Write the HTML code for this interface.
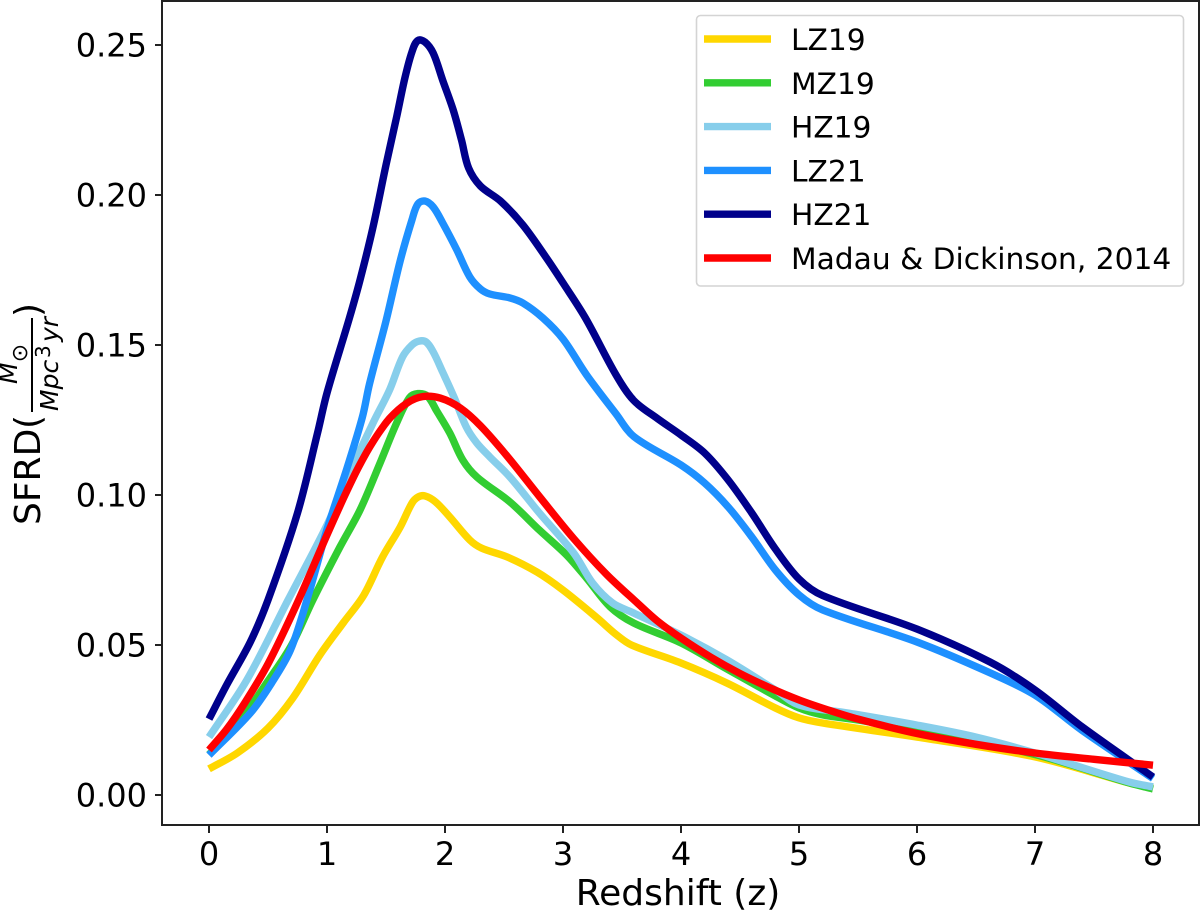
<!DOCTYPE html>
<html lang="en">
<head>
<meta charset="utf-8">
<title>SFRD vs Redshift</title>
<style>
html,body{margin:0;padding:0;background:#fff;width:1200px;height:911px;overflow:hidden}
svg{display:block}
text{font-family:"DejaVu Sans","Liberation Sans",sans-serif;fill:#000}
</style>
</head>
<body>
<svg id="chart" xmlns="http://www.w3.org/2000/svg" width="1200" height="911" viewBox="0 0 1200 911">
  <rect x="0" y="0" width="1200" height="911" fill="#fff"/>
  <g id="series" fill="none" stroke-width="7.4" stroke-linejoin="round" stroke-linecap="butt"></g>
  <rect x="162" y="1" width="1037" height="824" fill="none" stroke="#222" stroke-width="2"/>
  <g id="ticks"></g>
  <text x="678" y="905" font-size="36" text-anchor="middle">Redshift (z)</text>
  <g transform="translate(40,0) rotate(-90)">
    <text x="-525" y="0" font-size="36">SFRD</text>
    <text x="-429" y="0" font-size="36">(</text>
    <text x="-384" y="-23" font-size="25" font-style="italic">M</text>
    <text x="-353" y="-13" font-size="22" text-anchor="middle">⊙</text>
    <rect x="-412" y="-9" width="94" height="2" fill="#000"/>
    <text x="-411" y="18" font-size="25" font-style="italic">Mpc</text>
    <text x="-358" y="10" font-size="20">3</text>
    <text x="-342" y="18" font-size="25" font-style="italic">yr</text>
    <text x="-317" y="0" font-size="36">)</text>
  </g>
  <g>
    <rect x="696.5" y="15.5" width="487" height="270.5" rx="4" ry="4" fill="#fff" fill-opacity="0.8" stroke="#d4d4d4" stroke-width="1.6"/>
    <g id="legend-entries"></g>
  </g>
</svg>
<script>
// Categories and tick labels
const xTickValues = [0, 1, 2, 3, 4, 5, 6, 7, 8];
const yTickValues = [0.00, 0.05, 0.10, 0.15, 0.20, 0.25];
const yTickLabels = ["0.00", "0.05", "0.10", "0.15", "0.20", "0.25"];
const seriesNames = ["LZ19", "MZ19", "HZ19", "LZ21", "HZ21", "Madau & Dickinson, 2014"];
const seriesColors = ["#ffd700", "#32cd32", "#87ceeb", "#1e90ff", "#00008b", "#ff0000"];

// Series values
const lz19Z = [0, 0.24, 0.5, 0.71, 0.94, 1.14, 1.31, 1.47, 1.62, 1.72, 1.77, 1.83, 1.92, 2.04, 2.21, 2.31, 2.53, 2.78, 3, 3.29, 3.45, 3.58, 3.98, 4.39, 4.8, 5, 5.2, 6, 7, 7.8, 8];
const lz19Y = [0.0087, 0.014, 0.0223, 0.0323, 0.0467, 0.0575, 0.0665, 0.0793, 0.0893, 0.0973, 0.0993, 0.0997, 0.0977, 0.0927, 0.085, 0.0823, 0.0793, 0.0743, 0.0683, 0.059, 0.0535, 0.05, 0.0443, 0.0373, 0.029, 0.0257, 0.024, 0.0193, 0.0127, 0.004, 0.0023];
const mz19Z = [0, 0.25, 0.5, 0.7, 0.88, 1.11, 1.28, 1.45, 1.59, 1.7, 1.77, 1.85, 1.93, 2.04, 2.15, 2.27, 2.55, 2.8, 3.03, 3.2, 3.4, 3.6, 4, 4.39, 4.8, 5, 5.2, 5.5, 6, 7, 7.8, 8];
const mz19Y = [0.0135, 0.024, 0.038, 0.05, 0.065, 0.0827, 0.095, 0.1107, 0.124, 0.1325, 0.1338, 0.133, 0.128, 0.1207, 0.1117, 0.106, 0.0977, 0.0883, 0.08, 0.0723, 0.0627, 0.0573, 0.0507, 0.042, 0.033, 0.029, 0.0267, 0.025, 0.0215, 0.0135, 0.004, 0.002];
const hz19Z = [0, 0.32, 0.67, 1, 1.2, 1.39, 1.53, 1.64, 1.72, 1.78, 1.84, 1.9, 1.98, 2.08, 2.18, 2.27, 2.38, 2.55, 2.8, 3.09, 3.25, 3.42, 3.58, 4, 4.39, 4.8, 5, 5.42, 6, 6.5, 7, 7.8, 8];
const hz19Y = [0.0193, 0.0383, 0.065, 0.09, 0.108, 0.124, 0.135, 0.146, 0.15, 0.1513, 0.151, 0.1477, 0.141, 0.1323, 0.1227, 0.1173, 0.1127, 0.106, 0.094, 0.0807, 0.0707, 0.064, 0.061, 0.0533, 0.045, 0.035, 0.03, 0.0273, 0.0233, 0.0193, 0.014, 0.0043, 0.0027];
const lz21Z = [0, 0.35, 0.53, 0.69, 0.83, 1, 1.17, 1.3, 1.36, 1.5, 1.62, 1.72, 1.77, 1.83, 1.9, 1.98, 2.1, 2.21, 2.3, 2.38, 2.55, 2.66, 2.83, 3, 3.2, 3.45, 3.6, 4, 4.2, 4.4, 4.6, 4.8, 5, 5.2, 6, 6.62, 7, 7.4, 8];
const lz21Y = [0.0133, 0.0273, 0.0373, 0.0483, 0.065, 0.0885, 0.109, 0.126, 0.137, 0.158, 0.178, 0.1917, 0.197, 0.198, 0.196, 0.1907, 0.1817, 0.1727, 0.1687, 0.167, 0.1657, 0.164, 0.159, 0.152, 0.14, 0.127, 0.1195, 0.11, 0.104, 0.096, 0.086, 0.075, 0.0667, 0.0617, 0.051, 0.0407, 0.0333, 0.0215, 0.0055];
const hz21Z = [0, 0.15, 0.35, 0.5, 0.75, 0.92, 1, 1.19, 1.28, 1.39, 1.5, 1.59, 1.66, 1.72, 1.77, 1.83, 1.9, 1.98, 2.07, 2.14, 2.2, 2.3, 2.47, 2.66, 2.86, 3, 3.19, 3.45, 3.6, 3.8, 4, 4.2, 4.4, 4.6, 4.8, 5, 5.2, 6, 6.62, 7, 7.4, 8];
const hz21Y = [0.0253, 0.0367, 0.051, 0.065, 0.094, 0.1207, 0.134, 0.159, 0.1717, 0.1893, 0.21, 0.226, 0.239, 0.2477, 0.2515, 0.251, 0.2473, 0.2383, 0.2283, 0.2183, 0.209, 0.203, 0.198, 0.19, 0.179, 0.1707, 0.159, 0.14, 0.1315, 0.1255, 0.12, 0.114, 0.105, 0.094, 0.082, 0.072, 0.0665, 0.0553, 0.0443, 0.035, 0.0227, 0.006];
const madauZ = [0, 0.15, 0.3, 0.5, 0.75, 1, 1.15, 1.27, 1.39, 1.53, 1.68, 1.81, 1.96, 2.13, 2.3, 2.53, 2.8, 3.09, 3.37, 3.63, 3.8, 4, 4.25, 4.5, 4.75, 5, 5.25, 5.5, 6, 6.5, 7, 7.5, 8];
const madauY = [0.015, 0.0219, 0.0305, 0.0437, 0.0642, 0.0867, 0.0998, 0.1095, 0.1178, 0.1255, 0.1307, 0.1328, 0.1323, 0.129, 0.1231, 0.1128, 0.0995, 0.0855, 0.0735, 0.064, 0.058, 0.0523, 0.046, 0.0405, 0.0358, 0.0317, 0.0283, 0.0253, 0.0205, 0.0169, 0.014, 0.0119, 0.00995];
const seriesZ = [lz19Z, mz19Z, hz19Z, lz21Z, hz21Z, madauZ];
const seriesY = [lz19Y, mz19Y, hz19Y, lz21Y, hz21Y, madauY];

// Axis functions
function xScale(z) { return 209 + z * 118; }
function yScale(v) { return 795 - v * 3000; }

// Smooth path through the data points (Catmull-Rom to cubic Bezier)
function smoothPath(zs, ys) {
  const p = zs.map(function (z, k) { return [xScale(z), yScale(ys[k])]; });
  let d = "M" + p[0][0].toFixed(2) + " " + p[0][1].toFixed(2);
  for (let k = 0; k < p.length - 1; k++) {
    const a = p[Math.max(k - 1, 0)], b = p[k], c = p[k + 1], e = p[Math.min(k + 2, p.length - 1)];
    const s = Math.hypot(c[0] - b[0], c[1] - b[1]);
    const l1 = Math.hypot(c[0] - a[0], c[1] - a[1]) || 1;
    const l2 = Math.hypot(e[0] - b[0], e[1] - b[1]) || 1;
    const c1x = b[0] + (c[0] - a[0]) / l1 * s * 0.33, c1y = b[1] + (c[1] - a[1]) / l1 * s * 0.33;
    const c2x = c[0] - (e[0] - b[0]) / l2 * s * 0.33, c2y = c[1] - (e[1] - b[1]) / l2 * s * 0.33;
    d += " C" + c1x.toFixed(2) + " " + c1y.toFixed(2) + " " + c2x.toFixed(2) + " " + c2y.toFixed(2) + " " + c[0].toFixed(2) + " " + c[1].toFixed(2);
  }
  return d;
}

const NS = "http://www.w3.org/2000/svg";
const seriesGroup = document.getElementById("series");
const ticksGroup = document.getElementById("ticks");
const legendGroup = document.getElementById("legend-entries");

seriesNames.forEach(function (name, i) {
  const line = document.createElementNS(NS, "path");
  line.setAttribute("d", smoothPath(seriesZ[i], seriesY[i]));
  line.setAttribute("stroke", seriesColors[i]);
  
  
  seriesGroup.appendChild(line);

  const rowY = 39 + i * 43.8;
  const sample = document.createElementNS(NS, "line");
  sample.setAttribute("x1", 704);
  sample.setAttribute("x2", 771);
  sample.setAttribute("y1", rowY);
  sample.setAttribute("y2", rowY);
  sample.setAttribute("stroke", seriesColors[i]);
  sample.setAttribute("stroke-width", 7.4);
  
  
  legendGroup.appendChild(sample);

  const label = document.createElementNS(NS, "text");
  label.setAttribute("x", 791);
  label.setAttribute("y", rowY + 11);
  label.setAttribute("font-size", 29.7);
  label.textContent = name;
  
  
  legendGroup.appendChild(label);
});

xTickValues.forEach(function (v) {
  const tick = document.createElementNS(NS, "line");
  tick.setAttribute("x1", xScale(v));
  tick.setAttribute("x2", xScale(v));
  tick.setAttribute("y1", 825);
  tick.setAttribute("y2", 833);
  tick.setAttribute("stroke", "#222");
  tick.setAttribute("stroke-width", 2);
  
  
  ticksGroup.appendChild(tick);

  const label = document.createElementNS(NS, "text");
  label.setAttribute("x", xScale(v));
  label.setAttribute("y", 865);
  label.setAttribute("font-size", 32);
  label.setAttribute("text-anchor", "middle");
  label.textContent = String(v);
  
  
  ticksGroup.appendChild(label);
});

yTickValues.forEach(function (v, i) {
  const tick = document.createElementNS(NS, "line");
  tick.setAttribute("x1", 155);
  tick.setAttribute("x2", 162);
  tick.setAttribute("y1", yScale(v));
  tick.setAttribute("y2", yScale(v));
  tick.setAttribute("stroke", "#222");
  tick.setAttribute("stroke-width", 2);
  
  
  ticksGroup.appendChild(tick);

  const label = document.createElementNS(NS, "text");
  label.setAttribute("x", 147);
  label.setAttribute("y", yScale(v) + 11.5);
  label.setAttribute("font-size", 32);
  label.setAttribute("text-anchor", "end");
  label.textContent = yTickLabels[i];
  
  
  ticksGroup.appendChild(label);
});
</script>
</body>
</html>
